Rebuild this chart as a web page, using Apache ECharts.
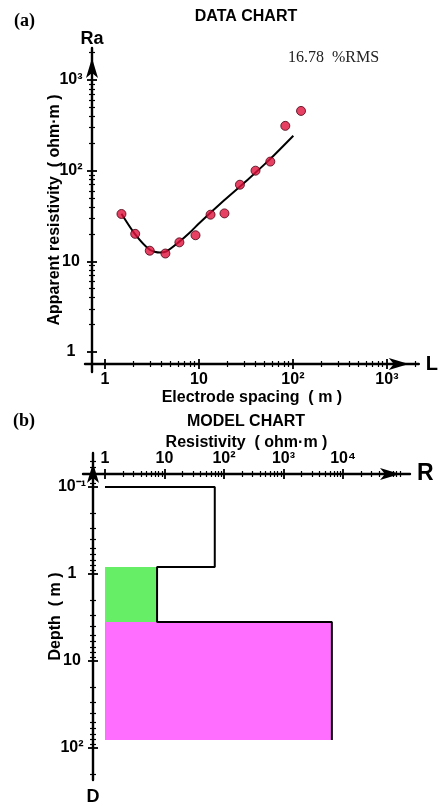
<!DOCTYPE html>
<html>
<head>
<meta charset="utf-8">
<script src="https://cdn.jsdelivr.net/npm/echarts@6/dist/echarts.min.js"></script>
<style>
html,body{margin:0;padding:0;background:#fff;}
#chart{width:439px;height:807px;}
</style>
</head>
<body>
<div id="chart"></div>
<script>
// (a) measured sounding: electrode spacing (m) vs apparent resistivity (ohm.m)
const spacing     = [1.5, 2.1, 3, 4.4, 6.2, 9.2, 13.3, 18.7, 27.3, 40, 57.5, 83, 122];
const apparentRes = [33.3, 20.1, 13.1, 12.2, 16.2, 19.4, 32.7, 33.8, 70, 100, 126, 312, 456];
// (a) fitted curve
const fitSpacing = [1.5, 2.08, 3, 3.83, 4.53, 6.24, 7.96, 10.2, 18.7, 32.6, 57.5, 101];
const fitRes     = [33.5, 20.1, 13.4, 12.5, 12.9, 16.6, 20.7, 26.7, 47.5, 78.6, 135, 243];
// (b) layered model
const layerRes    = [70, 7.5, 6500];
const layerTop    = [0.1, 0.83, 3.57];
const modelBottom = 81;
const modelLeftRes = 1;
const layerColors = [null, '#66ee66', '#ff6eff'];

// tick labels
const decadeLabels = {'-1': '10⁻¹', '0': '1', '1': '10', '2': '10²', '3': '10³', '4': '10⁴'};
const spacingTicks = [1, 10, 100, 1000];
const appResTicks  = [1, 10, 100, 1000];
const resTicks     = [1, 10, 100, 1000, 10000];
const depthTicks   = [0.1, 1, 10, 100];

const SANS = "'Liberation Sans', Arial, sans-serif";
const SERIF = "'Liberation Serif', 'Times New Roman', serif";

function minorValues(e0, e1) {
    const out = [];
    for (let e = e0; e <= e1; e++) {
        for (let k = 2; k <= 9; k++) out.push(+(k * Math.pow(10, e)).toPrecision(6));
    }
    return out;
}

function decadeText(v) {
    return decadeLabels[String(Math.round(Math.log10(v)))] || '';
}

// four stacked axes: main (line, outer ticks, labels), inner ticks, minor outer, minor inner
function logAxes(o) {
    const base = {
        type: 'log', gridIndex: o.grid, position: o.position, offset: o.offset,
        min: o.min, max: o.max, inverse: !!o.inverse,
        splitLine: {show: false}, axisLine: {show: false},
        axisLabel: {show: false}, axisTick: {show: false}, minorTick: {show: false}
    };
    const tickStyle = {color: '#000', width: 1.8};
    const nameStyle = {color: '#000', fontFamily: SANS, fontWeight: 'bold'};
    const main = Object.assign({}, base, {
        axisLine: {show: true, symbol: ['none', 'arrow'], symbolSize: [9, 20], symbolOffset: [0, -10],
                   lineStyle: {color: '#000', width: 2.4}},
        axisTick: {show: true, customValues: o.majors, length: 5, lineStyle: tickStyle},
        axisLabel: {show: true, customValues: o.majors, formatter: decadeText, margin: o.labelMargin,
                    align: o.labelAlign, color: '#000', fontFamily: SANS, fontWeight: 'bold', fontSize: 16},
        name: o.endName, nameLocation: 'end', nameGap: o.endGap,
        nameTextStyle: Object.assign({fontSize: o.endSize}, nameStyle)
    });
    const inner = Object.assign({}, base, {
        axisTick: {show: true, inside: true, customValues: o.majors, length: 5, lineStyle: tickStyle},
        name: o.title, nameLocation: 'middle', nameGap: o.titleGap, nameRotate: o.titleRotate,
        nameTextStyle: Object.assign({fontSize: 16}, nameStyle)
    });
    const minorOut = Object.assign({}, base, {
        axisTick: {show: true, customValues: o.minors, length: 3, lineStyle: {color: '#000', width: 1.2}}
    });
    const minorIn = Object.assign({}, base, {
        axisTick: {show: true, inside: true, customValues: o.minors, length: 3, lineStyle: {color: '#000', width: 1.2}}
    });
    return [main, inner, minorOut, minorIn];
}

const xAxes = [].concat(
    logAxes({grid: 0, position: 'bottom', offset: -8, min: 0.614, max: 2183,
             majors: spacingTicks, minors: minorValues(0, 3), labelMargin: 8,
             endName: 'L', endGap: 7, endSize: 20,
             title: 'Electrode spacing  ( m )', titleGap: 26}),
    logAxes({grid: 1, position: 'top', offset: -21, min: 0.427, max: 133700,
             majors: resTicks, minors: minorValues(0, 4), labelMargin: 7,
             endName: 'R', endGap: 7, endSize: 23,
             title: 'Resistivity  ( ohm·m )', titleGap: 23})
);
const yAxes = [].concat(
    logAxes({grid: 0, position: 'left', offset: -7, min: 0.602, max: 2254,
             majors: appResTicks, minors: minorValues(0, 3), labelMargin: 21, labelAlign: 'center',
             endName: 'Ra', endGap: 0, endSize: 18,
             title: 'Apparent resistivity  ( ohm·m )', titleGap: 29, titleRotate: 90}),
    logAxes({grid: 1, position: 'left', offset: -10, min: 0.0407, max: 233, inverse: true,
             majors: depthTicks, minors: minorValues(-2, 2), labelMargin: 21, labelAlign: 'center',
             endName: 'D', endGap: 8, endSize: 18,
             title: 'Depth  ( m )', titleGap: 29, titleRotate: 90})
);

// model outline as a stepped line
const outline = [[modelLeftRes, layerTop[0]]];
for (let i = 0; i < layerRes.length; i++) {
    outline.push([layerRes[i], layerTop[i]]);
    outline.push([layerRes[i], i + 1 < layerTop.length ? layerTop[i + 1] : modelBottom]);
}
const fills = [];
for (let i = 0; i < layerRes.length; i++) {
    if (!layerColors[i]) continue;
    fills.push({value: [modelLeftRes, layerRes[i], layerTop[i], i + 1 < layerTop.length ? layerTop[i + 1] : modelBottom],
                itemStyle: {color: layerColors[i]}});
}

const chart = echarts.init(document.getElementById('chart'), null, {renderer: 'canvas'});
chart.setOption({
    animation: false,
    backgroundColor: '#fff',
    grid: [
        {left: 85, right: 19, top: 48, bottom: 435},
        {left: 83, right: 29, top: 453, bottom: 27}
    ],
    xAxis: xAxes,
    yAxis: yAxes,
    graphic: [
        {type: 'text', left: 14, top: 12, style: {text: '(a)', font: 'bold 18px ' + SERIF, fill: '#000'}},
        {type: 'text', x: 246, y: 17, style: {text: 'DATA CHART', font: 'bold 16px ' + SANS, fill: '#000', align: 'center', verticalAlign: 'middle'}},
        {type: 'text', x: 288, y: 58, style: {text: '16.78  %RMS', font: '16px ' + SERIF, fill: '#222', verticalAlign: 'middle'}},
        {type: 'text', left: 13, top: 412, style: {text: '(b)', font: 'bold 18px ' + SERIF, fill: '#000'}},
        {type: 'text', x: 246, y: 422, style: {text: 'MODEL CHART', font: 'bold 16px ' + SANS, fill: '#000', align: 'center', verticalAlign: 'middle'}}
    ],
    series: [
        {
            type: 'line', xAxisIndex: 0, yAxisIndex: 0,
            data: fitSpacing.map((x, i) => [x, fitRes[i]]),
            showSymbol: false, smooth: 0.25,
            lineStyle: {color: '#000', width: 2}, z: 3
        },
        {
            type: 'scatter', xAxisIndex: 0, yAxisIndex: 0,
            data: spacing.map((x, i) => [x, apparentRes[i]]),
            symbol: 'circle', symbolSize: 9,
            itemStyle: {color: '#e0103c', borderColor: '#4a0010', borderWidth: 1}, z: 4
        },
        {
            type: 'custom', xAxisIndex: 4, yAxisIndex: 4,
            encode: {x: [0, 1], y: [2, 3]},
            data: fills,
            renderItem: function (params, api) {
                const p0 = api.coord([api.value(0), api.value(2)]);
                const p1 = api.coord([api.value(1), api.value(3)]);
                return {type: 'rect', shape: {x: p0[0], y: p0[1], width: p1[0] - p0[0], height: p1[1] - p0[1]},
                        style: {fill: api.visual('color')}};
            },
            z: 1
        },
        {
            type: 'line', xAxisIndex: 4, yAxisIndex: 4,
            data: outline, showSymbol: false,
            lineStyle: {color: '#000', width: 2}, z: 3
        }
    ]
});
</script>
</body>
</html>
